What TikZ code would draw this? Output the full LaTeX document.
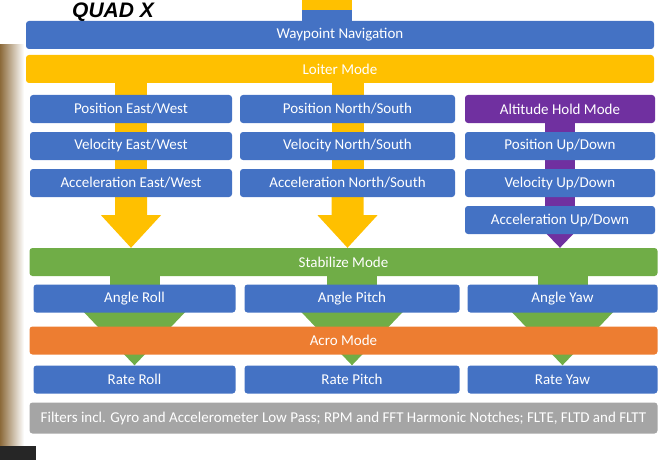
\documentclass[tikz,border=0pt]{standalone}
\usepackage{fontspec}
\setmainfont{Carlito}
\newfontfamily\titlefont{Liberation Sans}
\usetikzlibrary{calc}

\definecolor{slideblue}{HTML}{4472C4}
\definecolor{slideyellow}{HTML}{FFC000}
\definecolor{slidepurple}{HTML}{7030A0}
\definecolor{slidegreen}{HTML}{70AD47}
\definecolor{slideorange}{HTML}{ED7D31}
\definecolor{slidegray}{HTML}{A5A5A5}
\definecolor{photobrown}{HTML}{8C6A3A}

\pgfdeclarelayer{background}
\pgfsetlayers{background,main}

\begin{document}
\begin{tikzpicture}[x=1pt,y=-1pt,
    box/.style={fill=slideblue,rounded corners=3pt,text=white,inner sep=0pt,
      minimum height=28pt,font=\fontsize{15}{17}\selectfont},
    modebar/.style={box,fill=#1,minimum width=628pt},
    eastwest/.style={box,minimum width=202pt},
    northsouth/.style={box,minimum width=215pt},
    updown/.style={box,minimum width=190pt}]

        \useasboundingbox (0,0) rectangle (667,460);
        \clip (0,0) rectangle (667,460);

        % Photo edges round the slide
        \fill[left color=photobrown,right color=white] (0,45) rectangle (24,448);
        \fill[black!85] (0,446) rectangle (36,460);

        % Title
        \node[anchor=base west,inner sep=0pt,font=\titlefont\bfseries\itshape\fontsize{21}{21}\selectfont] (title) at (72,17.5) {QUAD X};

        % Navigation modes
        \coordinate (feed) at (327,-2);
        \node[modebar=slideblue] (waypoint) at (340,35) {Waypoint Navigation};
        \node[modebar=slideyellow] (loiter) at (340,69) {Loiter Mode};

        % East/West chain
        \node[eastwest] (posew) at (131,109) {Position East/West};
        \node[eastwest] (velew) at (131,146) {Velocity East/West};
        \node[eastwest] (accew) at (131,183) {Acceleration East/West};

        % North/South chain
        \node[northsouth] (posns) at (347.5,109) {Position North/South};
        \node[northsouth] (velns) at (347.5,146) {Velocity North/South};
        \node[northsouth] (accns) at (347.5,183) {Acceleration North/South};

        % Up/Down chain
        \node[updown,fill=slidepurple] (althold) at (560,109) {Altitude Hold Mode};
        \node[updown] (posud) at (560,146) {Position Up/Down};
        \node[updown] (velud) at (560,183) {Velocity Up/Down};
        \node[updown] (accud) at (560,220) {Acceleration Up/Down};

        % Stabilize and angles
        \node[modebar=slidegreen] (stabilize) at (343.5,262) {Stabilize Mode};
        \node[eastwest] (angleroll) at (134.5,298.5) {Angle Roll};
        \node[northsouth] (anglepitch) at (352,298.5) {Angle Pitch};
        \node[updown] (angleyaw) at (562.5,298.5) {Angle Yaw};

        % Acro and rates
        \node[modebar=slideorange] (acro) at (343.5,340.5) {Acro Mode};
        \node[eastwest] (rateroll) at (134.5,379.5) {Rate Roll};
        \node[northsouth] (ratepitch) at (352,379.5) {Rate Pitch};
        \node[updown] (rateyaw) at (562.5,379.5) {Rate Yaw};

        % Filters
        \node[modebar=slidegray,minimum height=31pt] (filters) at (343.5,418) {Filters incl. Gyro and Accelerometer Low Pass; RPM and FFT Harmonic Notches; FLTE, FLTD and FLTT};

        \begin{pgfonlayer}{background}
            % Feed into waypoint bar
            \fill[slideyellow] ($(feed)+(-25,0)$) rectangle ($(feed)+(25,12)$);
            \fill[slideblue] ($(feed)+(-25,12)$) rectangle ($(waypoint.north -| feed)+(25,3)$);

            % Loiter down the yellow chains, block arrows into stabilize
            \foreach \colhead/\coltail in {posew/accew,posns/accns}{
                \fill[slideyellow] ($(loiter.south -| \colhead)+(-16,-2)$) rectangle ($(\coltail.south)+(16,0)$);
                \fill[slideyellow] ($(\coltail.south)+(-16,-2)$) -- ($(\coltail.south)+(-16,18)$) -- ($(\coltail.south)+(-30,18)$)
                    -- (\coltail.south |- stabilize.north) -- ($(\coltail.south)+(30,18)$) -- ($(\coltail.south)+(16,18)$)
                    -- ($(\coltail.south)+(16,-2)$) -- cycle;
            }

            % Altitude hold chain
            \fill[slidepurple] ($(althold.south)+(-15,-2)$) rectangle ($(accud.north)+(15,2)$);
            \fill[slidepurple] ($(accud.south)+(-15,-2)$) -- (accud.south |- stabilize.north) -- ($(accud.south)+(15,-2)$) -- cycle;

            % Stabilize to angles, angles through acro to rates
            \foreach \anglebox/\ratebox in {angleroll/rateroll,anglepitch/ratepitch,angleyaw/rateyaw}{
                \fill[slidegreen] ($(stabilize.south -| \anglebox)+(-25,-2)$) rectangle ($(\anglebox.north)+(25,2)$);
                \fill[slidegreen] ($(\anglebox.south)+(-52,-2)$) -- (\ratebox.north) -- ($(\anglebox.south)+(52,-2)$) -- cycle;
            }
        \end{pgfonlayer}

    \end{tikzpicture}
\end{document}
